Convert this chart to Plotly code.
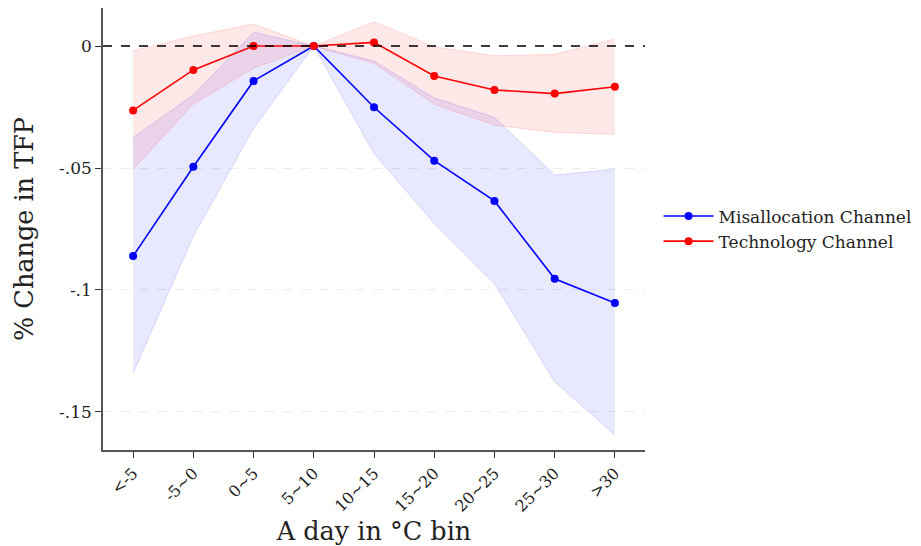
import plotly.graph_objects as go

# Temperature bins on the horizontal axis
bins = ["<-5", "-5~0", "0~5", "5~10", "10~15", "15~20", "20~25", "25~30", ">30"]

# Misallocation channel: point estimates and 95% CI
mis_est = [-0.0861, -0.0495, -0.0143, 0.0, -0.0251, -0.0470, -0.0635, -0.0954, -0.1053]
mis_hi = [-0.0374, -0.0201, 0.0057, 0.0, -0.0061, -0.0212, -0.0292, -0.0529, -0.0505]
mis_lo = [-0.1341, -0.0779, -0.0337, 0.0, -0.0440, -0.0727, -0.0973, -0.1376, -0.1594]

# Technology channel: point estimates and 95% CI
tec_est = [-0.0264, -0.0098, 0.0, 0.0, 0.0015, -0.0123, -0.0180, -0.0195, -0.0167]
tec_hi = [-0.0019, 0.0041, 0.0090, 0.0, 0.0100, -0.0003, -0.0040, -0.0034, 0.0029]
tec_lo = [-0.0505, -0.0238, -0.0091, 0.0, -0.0071, -0.0239, -0.0324, -0.0354, -0.0362]

# Y tick values and labels
y_ticks = [0, -0.05, -0.1, -0.15]
y_labels = ["0", "-.05", "-.1", "-.15"]

FONT = "DejaVu Serif"
x = list(range(len(bins)))

fig = go.Figure()


def add_band(lo, hi, fill, edge):
    fig.add_trace(go.Scatter(x=x, y=lo, mode="lines", line=dict(color=edge, width=1),
                             showlegend=False, hoverinfo="skip"))
    fig.add_trace(go.Scatter(x=x, y=hi, mode="lines", line=dict(color=edge, width=1),
                             fill="tonexty", fillcolor=fill,
                             showlegend=False, hoverinfo="skip"))


add_band(mis_lo, mis_hi, "rgba(0,0,255,0.09)", "rgba(0,0,255,0.13)")
add_band(tec_lo, tec_hi, "rgba(255,0,0,0.09)", "rgba(255,0,0,0.13)")

fig.add_trace(go.Scatter(x=x, y=mis_est, mode="lines+markers", name="Misallocation Channel",
                         line=dict(color="#0000ff", width=1.6),
                         marker=dict(color="#0000ff", size=8)))
fig.add_trace(go.Scatter(x=x, y=tec_est, mode="lines+markers", name="Technology Channel",
                         line=dict(color="#ff0000", width=1.6),
                         marker=dict(color="#ff0000", size=8)))

# Zero reference line
fig.add_shape(type="line", xref="paper", x0=0, x1=1, yref="y", y0=0, y1=0,
              line=dict(color="black", width=1.5, dash="dash"), layer="above")

fig.update_layout(
    width=921, height=546,
    margin=dict(l=103, r=276, t=8, b=96, autoexpand=False),
    plot_bgcolor="white", paper_bgcolor="white",
    font=dict(family=FONT, color="#222222", size=17),
    legend=dict(x=1.025, y=0.5, xanchor="left", yanchor="middle",
                traceorder="normal", itemwidth=50,
                font=dict(family=FONT, size=17, color="#222222"),
                bgcolor="rgba(0,0,0,0)", tracegroupgap=0),
    xaxis=dict(
        tickmode="array", tickvals=x, ticktext=bins, tickangle=-45,
        range=[-0.5, 8.5], showgrid=False, zeroline=False, automargin=False,
        showline=True, linecolor="#555555", linewidth=1.5,
        ticks="outside", ticklen=6, tickcolor="#333333", tickwidth=1,
        tickfont=dict(family=FONT, size=16),
        title=dict(text="A day in °C bin", font=dict(family=FONT, size=25.5), standoff=14),
    ),
    yaxis=dict(
        tickmode="array", tickvals=y_ticks, ticktext=y_labels,
        range=[-0.1656, 0.0156], showgrid=True, gridcolor="#ebebeb", gridwidth=1.2,
        griddash="dash", zeroline=False, automargin=False,
        showline=True, linecolor="#555555", linewidth=1.5,
        ticks="outside", ticklen=6, tickcolor="#333333", tickwidth=1,
        tickfont=dict(family=FONT, size=17),
        title=dict(text="% Change in TFP", font=dict(family=FONT, size=25.5), standoff=18),
    ),
)

fig.write_html("out.html")
